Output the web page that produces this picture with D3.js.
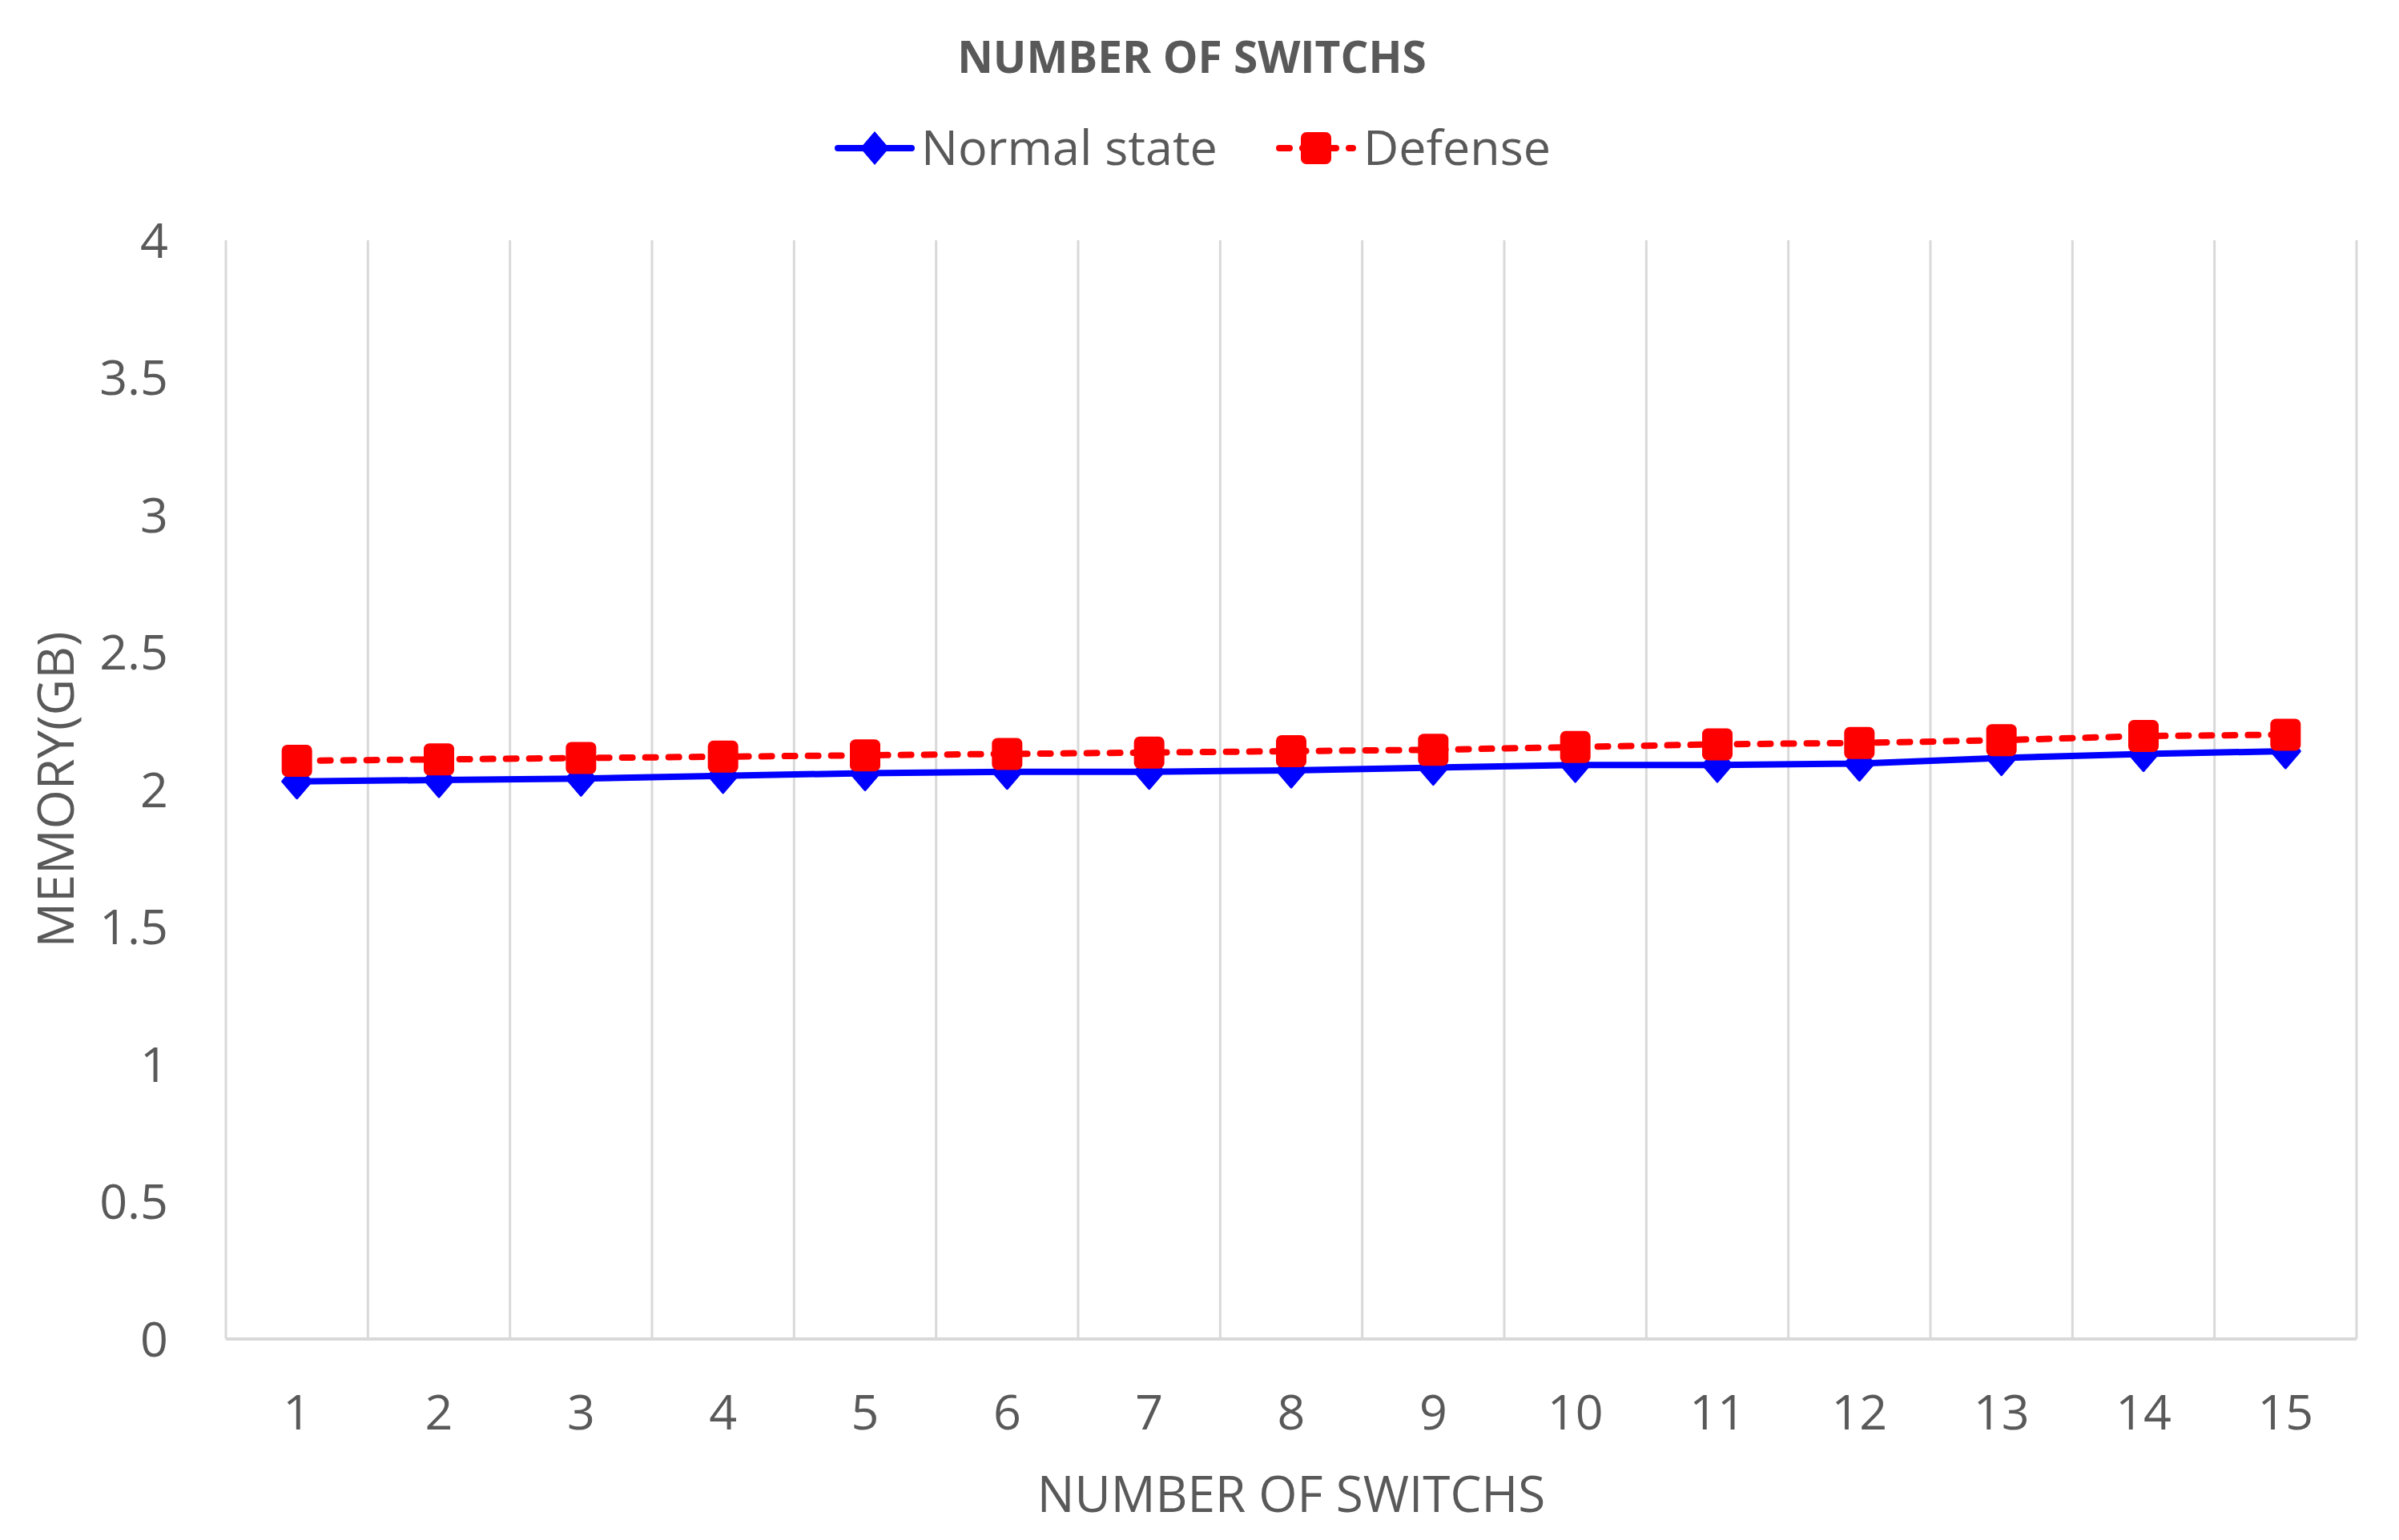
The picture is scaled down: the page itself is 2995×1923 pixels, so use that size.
<!DOCTYPE html>
<html>
<head>
<meta charset="utf-8">
<script src="https://cdn.jsdelivr.net/npm/d3@7"></script>
<style>
  body { margin: 0; background: #fff; }
  text { font-family: "Open Sans", "Noto Sans", sans-serif; fill: #595959; }
</style>
</head>
<body>
<div id="chart"></div>
<script>
// chart data
const categories = ["1", "2", "3", "4", "5", "6", "7", "8", "9", "10", "11", "12", "13", "14", "15"];
const normalState = [2.03, 2.035, 2.04, 2.05, 2.06, 2.065, 2.065, 2.07, 2.08, 2.09, 2.09, 2.095, 2.115, 2.13, 2.14];
const defense = [2.105, 2.11, 2.115, 2.12, 2.125, 2.13, 2.135, 2.14, 2.145, 2.155, 2.165, 2.17, 2.18, 2.195, 2.2];
const yTicks = [0, 0.5, 1, 1.5, 2, 2.5, 3, 3.5, 4];
const seriesNames = ["Normal state", "Defense"];

const W = 2995, H = 1923;
const margin = { top: 300, right: 53, bottom: 251, left: 282 };

const svg = d3.select("#chart")
    .append("svg")
    .attr("width", W)
    .attr("height", H);

// scales
const x = d3.scaleBand()
    .domain(categories)
    .range([margin.left, W - margin.right])
    .padding(0);

const y = d3.scaleLinear()
    .domain([0, 4])
    .range([H - margin.bottom, margin.top]);

const cx = d => x(d) + x.bandwidth() / 2;

// vertical gridlines at category boundaries
const edges = categories.map(c => x(c)).concat([x(categories[categories.length - 1]) + x.bandwidth()]);
svg.append("g")
    .selectAll("line")
    .data(edges)
    .enter().append("line")
    .attr("x1", d => d).attr("x2", d => d)
    .attr("y1", y(4)).attr("y2", y(0))
    .attr("stroke", "#d9d9d9")
    .attr("stroke-width", 3);

// bottom axis line
svg.append("line")
    .attr("x1", x.range()[0]).attr("x2", x.range()[1])
    .attr("y1", y(0)).attr("y2", y(0))
    .attr("stroke", "#d9d9d9")
    .attr("stroke-width", 4);

// y axis labels
const yAxis = svg.append("g")
    .attr("transform", "translate(" + (margin.left - 72) + ",0)")
    .call(d3.axisLeft(y).tickValues(yTicks).tickSize(0).tickPadding(0).tickFormat(d3.format("")));
yAxis.select(".domain").remove();
yAxis.selectAll("text")
    .style("font-size", "61px")
    .style("font-family", "\"Open Sans\", sans-serif")
    .attr("fill", "#595959")
    .attr("dy", "0.35em");

// x axis labels
const xAxis = svg.append("g")
    .attr("transform", "translate(0," + y(0) + ")")
    .call(d3.axisBottom(x).tickSize(0).tickPadding(0));
xAxis.select(".domain").remove();
xAxis.selectAll("text")
    .style("font-size", "61px")
    .style("font-family", "\"Open Sans\", sans-serif")
    .attr("fill", "#595959")
    .attr("y", 92)
    .attr("dy", "0.35em");

// axis titles
svg.append("text")
    .attr("x", (x.range()[0] + x.range()[1]) / 2)
    .attr("y", 1866)
    .attr("dy", "0.35em")
    .attr("text-anchor", "middle")
    .style("font-size", "62px")
    .text("NUMBER OF SWITCHS");

svg.append("text")
    .attr("transform", "translate(70," + ((y(0) + y(4)) / 2) + ")rotate(-90)")
    .attr("dy", "0.35em")
    .attr("text-anchor", "middle")
    .style("font-size", "63px")
    .text("MEMORY(GB)");

// chart title
svg.append("text")
    .attr("x", 1488)
    .attr("y", 72)
    .attr("dy", "0.35em")
    .attr("text-anchor", "middle")
    .style("font-size", "55px")
    .style("font-weight", "bold")
    .text("NUMBER OF SWITCHS");

// lines
const line = d3.line()
    .x((d, i) => cx(categories[i]))
    .y(d => y(d));

svg.append("path")
    .datum(normalState)
    .attr("d", line)
    .attr("fill", "none")
    .attr("stroke", "#0000ff")
    .attr("stroke-width", 8)
    .attr("stroke-linejoin", "round");

svg.append("path")
    .datum(defense)
    .attr("d", line)
    .attr("fill", "none")
    .attr("stroke", "#ff0000")
    .attr("stroke-width", 8)
    .attr("stroke-dasharray", "13,16")
    .attr("stroke-linecap", "round");

// markers
const diamond = "M0,-21L18,0L0,21L-18,0Z";
svg.append("g")
    .selectAll("path")
    .data(normalState)
    .enter().append("path")
    .attr("d", diamond)
    .attr("transform", (d, i) => "translate(" + cx(categories[i]) + "," + y(d) + ")")
    .attr("fill", "#0000ff")
    .attr("stroke", "#0000ff")
    .attr("stroke-width", 3)
    .attr("stroke-linejoin", "round");

svg.append("g")
    .selectAll("rect")
    .data(defense)
    .enter().append("rect")
    .attr("x", (d, i) => cx(categories[i]) - 19)
    .attr("y", d => y(d) - 20)
    .attr("width", 38)
    .attr("height", 40)
    .attr("rx", 7)
    .attr("fill", "#ff0000");

// legend
const legend = svg.append("g");
const lg = [
    { name: seriesNames[0], x0: 1042, color: "#0000ff", dash: null, textX: 1150 },
    { name: seriesNames[1], x0: 1593, color: "#ff0000", dash: "13,16", textX: 1702 }
];
lg.forEach((s, i) => {
    const ly = 185;
    legend.append("line")
        .attr("x1", s.x0 + 4).attr("x2", s.x0 + 96)
        .attr("y1", ly).attr("y2", ly)
        .attr("stroke", s.color)
        .attr("stroke-width", 8)
        .attr("stroke-linecap", "round")
        .attr("stroke-dasharray", s.dash);
    if (i === 0) {
        legend.append("path")
            .attr("d", diamond)
            .attr("transform", "translate(" + (s.x0 + 50) + "," + ly + ")")
            .attr("fill", s.color);
    } else {
        legend.append("rect")
            .attr("x", s.x0 + 50 - 19).attr("y", ly - 20)
            .attr("width", 38).attr("height", 40)
            .attr("rx", 7)
            .attr("fill", s.color);
    }
    legend.append("text")
        .attr("x", s.textX)
        .attr("y", ly)
        .attr("dy", "0.35em")
        .style("font-size", "61px")
        .text(s.name);
});
</script>
</body>
</html>
